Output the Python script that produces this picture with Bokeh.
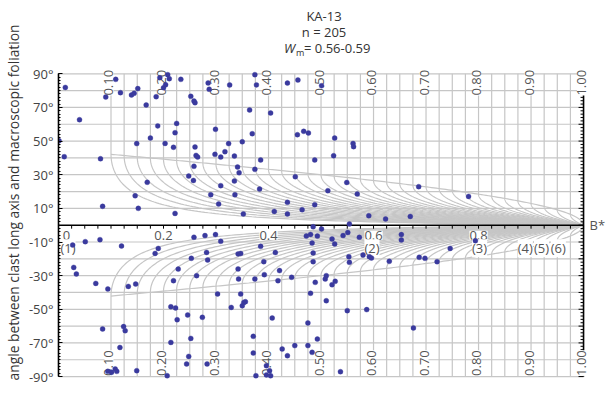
import numpy as np
from bokeh.plotting import figure
from bokeh.models import ColumnDataSource, LabelSet, Label, FixedTicker, Range1d
from bokeh.core.properties import value
from bokeh.embed import file_html
from bokeh.resources import INLINE

# ---------------- data ----------------
sample_name = "KA-13"
n_text = "n = 205"
wm_range_text = "= 0.56-0.59"
y_title = "angle between clast long axis and macroscopic foliation"

bstar_up = [0.013,0.040,0.001,0.011,0.080,0.084,0.109,0.090,0.118,0.139,
            0.144,0.151,0.167,0.186,0.193,0.200,0.204,0.208,0.211,0.233,
            0.252,0.258,0.260,0.285,0.287,0.326,0.374,0.377,0.364,0.369,
            0.189,0.225,0.222,0.175,0.149,0.203,0.219,0.260,0.262,0.265,
            0.258,0.248,0.257,0.299,0.298,0.309,0.317,0.324,0.335,0.350,
            0.341,0.344,0.385,0.374,0.335,0.169,0.146,0.152,0.222,0.404,
            0.436,0.456,0.501,0.455,0.467,0.476,0.526,0.561,0.562,0.488,
            0.524,0.309,0.290,0.305,0.336,0.383,0.352,0.411,0.436,0.436,
            0.451,0.464,0.488,0.513,0.549,0.569,0.591,0.623,0.670,0.686,0.781]
theta_up = [81.9,62.7,50.2,40.7,39.5,11.2,86.7,76.2,78.8,77.4,
            78.4,81.2,71.5,76.4,87.7,81.7,83.5,89.5,87.1,86.7,
            76.6,73.8,72.8,84.6,80.8,83.4,89.5,83.4,68.5,54.4,
            59.0,60.5,55.0,51.8,48.5,48.6,46.3,46.5,41.5,40.5,
            35.0,29.2,26.6,57.0,42.1,40.5,43.7,48.5,41.1,49.6,
            34.6,31.2,38.8,33.2,26.3,25.5,17.5,10.0,7.0,66.7,
            84.5,86.3,82.9,53.8,55.8,54.8,51.8,48.6,46.7,38.8,
            41.3,23.5,18.1,12.6,18.1,21.5,6.7,8.2,13.6,6.7,
            28.8,9.2,12.2,20.5,25.4,18.5,5.6,3.7,5.2,22.9,17.1]
bstar_lo = [0.027,0.051,0.079,0.120,0.029,0.034,0.071,0.094,0.133,0.147,
            0.184,0.190,0.258,0.253,0.228,0.219,0.263,0.214,0.223,0.226,
            0.246,0.252,0.214,0.248,0.244,0.207,0.084,0.124,0.127,0.117,
            0.149,0.094,0.101,0.108,0.111,0.274,0.283,0.303,0.329,0.342,
            0.343,0.347,0.350,0.353,0.356,0.374,0.391,0.371,0.371,0.376,
            0.279,0.299,0.309,0.282,0.284,0.342,0.347,0.385,0.413,0.392,
            0.421,0.418,0.444,0.407,0.396,0.402,0.396,0.404,0.426,0.436,
            0.450,0.475,0.475,0.483,0.493,0.537,0.550,0.587,0.510,0.480,
            0.508,0.510,0.527,0.521,0.489,0.485,0.485,0.483,0.472,0.480,
            0.493,0.521,0.526,0.542,0.551,0.553,0.554,0.580,0.592,0.596,
            0.630,0.485,0.501,0.554,0.573,0.653,0.653,0.687,0.698,0.721,
            0.746,0.794,0.676]
theta_lo = [-11.8,-9.8,-8.6,-12.4,-25.1,-29.0,-34.6,-37.9,-36.4,-35.0,
            -16.8,-13.8,-7.2,-19.7,-26.1,-33.0,-30.0,-48.5,-49.2,-56.2,
            -53.4,-67.3,-69.7,-78.0,-82.5,-89.5,-61.7,-60.3,-62.7,-72.7,
            -86.5,-86.9,-87.5,-85.5,-86.9,-54.8,-82.5,-40.9,-48.9,-26.0,
            -32.0,-40.9,-47.9,-45.9,-45.5,-32.0,-21.7,-66.1,-76.0,-89.5,
            -6.2,-5.6,-9.6,-16.2,-20.7,-17.1,-16.8,-12.6,-16.3,-29.4,
            -27.0,-33.0,-31.0,-55.2,-83.5,-86.5,-89.0,-89.5,-73.6,-77.6,
            -71.6,-71.6,-58.1,-75.6,-67.7,-87.1,-50.8,-50.2,-44.9,-40.5,
            -32.0,-30.0,-33.4,-35.4,-34.0,-16.5,-21.7,-10.6,-6.5,-5.5,
            -6.5,-8.2,-11.2,-6.2,-4.3,-18.7,-22.1,-17.7,-18.7,-19.5,
            -21.5,-0.9,-2.3,0.7,-7.2,-5.6,-8.8,-19.1,-19.7,-21.7,
            -13.8,-9.2,-61.1]

wm_ticks = [0.10, 0.20, 0.30, 0.40, 0.50, 0.60, 0.70, 0.80, 0.90, 1.00]
wm_tick_labels = ["0.10", "0.20", "0.30", "0.40", "0.50", "0.60", "0.70", "0.80", "0.90", "1.00"]
b_ticks = [0.0, 0.2, 0.4, 0.6, 0.8]
b_tick_labels = ["0", "0.2", "0.4", "0.6", "0.8"]
ref_labels = ["(1)", "(2)", "(3)", "(4)", "(5)", "(6)"]
ref_bstar = [0.018, 0.597, 0.802, 0.889, 0.920, 0.952]
angle_ticks = [90, 70, 50, 30, 10, -10, -30, -50, -70, -90]

# net construction parameters (rigid grain net)
wm_step = 0.025
wm_min = 0.10
grid_step_deg = 10

# ---------------- styling ----------------
FONT = "Open Sans"
GRID = "#c6c6c6"
TXT = "#555555"
DOT = "#3a3a9e"

W, H = 609, 404
LEFT = 57
PX_PER_B = 526.0
PX_PER_DEG = 1.682
TOP_PX = 73.3   # screen y of 90 deg

y_top = 90 + TOP_PX / PX_PER_DEG
y_bot = 90 - (H - TOP_PX) / PX_PER_DEG
x_end = (W - LEFT) / PX_PER_B

p = figure(width=W, height=H, output_backend="svg", toolbar_location=None,
           x_range=Range1d(0, x_end), y_range=Range1d(y_bot, y_top),
           x_axis_location=None, y_axis_location="left",
           min_border_left=LEFT, min_border_right=0, min_border_top=0, min_border_bottom=0)
p.grid.visible = False
p.outline_line_color = None
p.background_fill_color = "white"
p.border_fill_color = "white"

# ---------------- net ----------------
wm_net = np.round(np.arange(wm_min, 1.0 + 1e-9, wm_step), 4)
xs, ys = [], []
for w in wm_net[:-1]:
    a = np.degrees(np.arccos(w))
    t = np.linspace(0, 1, 120)
    b = w + (1 - w) * t ** 2
    th = (a - np.degrees(np.arccos(np.clip(w / b, -1, 1)))) / 2
    xs.append([w] + list(b)); ys.append([90] + list(th))
    xs.append([w] + list(b)); ys.append([-90] + list(-th))
# envelope (locus of turning points)
be = np.linspace(wm_min, 1.0, 200)
te = np.degrees(np.arccos(be)) / 2
xs.append(list(be)); ys.append(list(te))
xs.append(list(be)); ys.append(list(-te))
# horizontal grid
for g in range(-90, 91, grid_step_deg):
    if g != 0:
        xs.append([0, 1]); ys.append([g, g])
p.multi_line(xs, ys, line_color=GRID, line_width=1.2, level="image")

# ---------------- axes drawn in data space ----------------
p.segment(x0=[0, 1], y0=[0, -90], x1=[1, 1], y1=[0, 90], line_color="black", line_width=1.6, level="image")
bt = np.round(np.arange(0, 1.0 + 1e-9, 0.025), 4)
p.segment(x0=bt, y0=np.zeros_like(bt), x1=bt, y1=np.full_like(bt, -3.5 / PX_PER_DEG),
          line_color="black", line_width=1, level="image")
rt = np.arange(-90, 91, 2)
rlen = np.where(rt % 10 == 0, 5.0, 3.0) / PX_PER_B
p.segment(x0=np.ones(len(rt)), y0=rt, x1=1 - rlen, y1=rt, line_color="black", line_width=1, level="image")

# ---------------- points ----------------
p.scatter(bstar_up + bstar_lo, theta_up + theta_lo, size=5, fill_color=DOT, line_color=DOT,
          line_alpha=0.6, line_width=0.6)

# ---------------- labels ----------------
lab_top = ColumnDataSource(dict(x=wm_ticks, y=[84.7] * len(wm_ticks), t=wm_tick_labels))
lab_bot = ColumnDataSource(dict(x=wm_ticks, y=[-82.0] * len(wm_ticks), t=wm_tick_labels))
for src in (lab_top, lab_bot):
    p.add_layout(LabelSet(x="x", y="y", text="t", source=src, angle=np.pi / 2, x_offset=-2,
                          text_align="center", text_baseline="middle", text_font=value(FONT),
                          text_font_size="13px", text_color=TXT, background_fill_color="white",
                          level="underlay"))

src_b = ColumnDataSource(dict(x=b_ticks, y=[0.0] * len(b_ticks), t=b_tick_labels,
                              dx=[8, 0, 0, 0, 0]))
p.add_layout(LabelSet(x="x", y="y", text="t", source=src_b, y_offset=-10, x_offset="dx",
                      text_align="center", text_baseline="middle", text_font=value(FONT),
                      text_font_size="13px", text_color=TXT, background_fill_color="white",
                      level="underlay"))
src_r = ColumnDataSource(dict(x=ref_bstar, y=[0.0] * len(ref_bstar), t=ref_labels))
p.add_layout(LabelSet(x="x", y="y", text="t", source=src_r, y_offset=-23,
                      text_align="center", text_baseline="middle", text_font=value(FONT),
                      text_font_size="13px", text_color=TXT, background_fill_color="white",
                      level="underlay"))
p.add_layout(Label(x=1.0, y=0, x_offset=6, text="B*", text_align="left", text_baseline="middle",
                   text_font=FONT, text_font_size="13px", text_color=TXT))

# title
cx = (323 - LEFT) / PX_PER_B
for txt, py in ((sample_name, 15), (n_text, 31)):
    p.add_layout(Label(x=cx, y=90 + (TOP_PX - py) / PX_PER_DEG, text=txt, text_align="center",
                       text_baseline="middle", text_font=FONT, text_font_size="13px", text_color="#333333"))
wy = 90 + (TOP_PX - 47) / PX_PER_DEG
p.add_layout(Label(x=cx, y=wy, x_offset=-40, text="W", text_align="left", text_baseline="middle",
                   text_font=FONT, text_font_style="italic", text_font_size="13px", text_color="#333333"))
p.add_layout(Label(x=cx, y=wy, x_offset=-28, y_offset=-5, text="m", text_align="left", text_baseline="middle",
                   text_font=FONT, text_font_size="9px", text_color="#333333"))
p.add_layout(Label(x=cx, y=wy, x_offset=-20, text=wm_range_text, text_align="left", text_baseline="middle",
                   text_font=FONT, text_font_size="13px", text_color="#333333"))

# left axis (real Bokeh axis)
ax = p.yaxis[0]
ax.ticker = FixedTicker(ticks=angle_ticks, minor_ticks=list(range(-90, 91, 2)))
ax.major_label_overrides = {t: f"{t}\u00b0" for t in angle_ticks}
ax.bounds = (-90, 90)
ax.axis_line_color = "black"
ax.axis_line_width = 1.6
ax.major_tick_in = 4
ax.major_tick_out = 0
ax.minor_tick_in = 2
ax.minor_tick_out = 0
ax.major_label_standoff = 5
ax.major_label_text_font = FONT
ax.major_label_text_font_size = "13px"
ax.major_label_text_color = "#444444"
ax.axis_label = y_title
ax.axis_label_text_font = FONT
ax.axis_label_text_font_size = "13.8px"
ax.axis_label_text_font_style = "normal"
ax.axis_label_text_color = "#333333"
ax.axis_label_standoff = 3

open("out.html", "w").write(file_html(p, INLINE))
